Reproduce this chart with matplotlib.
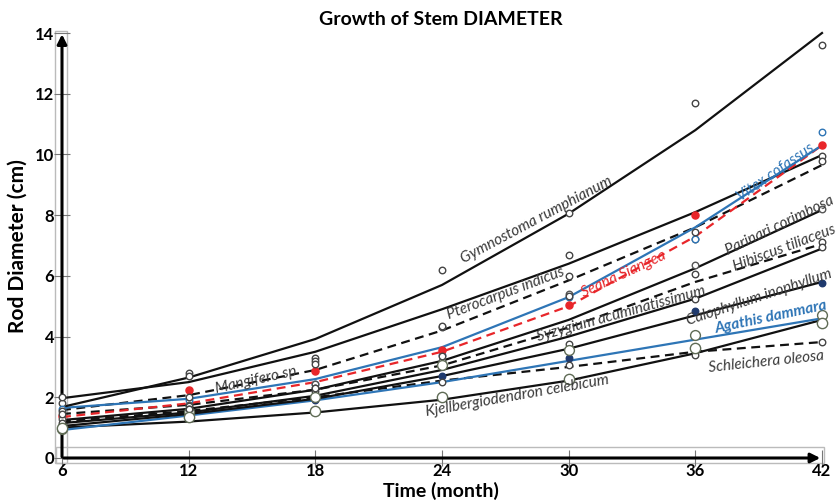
import matplotlib
matplotlib.use("Agg")
import matplotlib.pyplot as plt
from matplotlib.patches import Rectangle
import numpy as np

plt.rcParams['font.family'] = ['Lato', 'DejaVu Sans']

months = [6, 12, 18, 24, 30, 36, 42]

# trend lines (cm)
gym_fit = [1.68, 2.65, 3.92, 5.7, 8.05, 10.8, 14.0]
ptero_fit = [1.97, 2.5, 3.5, 4.9, 6.4, 8.1, 9.98]
vitex_fit = [1.65, 1.95, 2.6, 3.65, 5.3, 7.6, 10.3]
seana_fit = [1.35, 1.8, 2.5, 3.5, 5.0, 7.3, 10.3]
mangi_fit = [1.58, 2.07, 2.9, 4.2, 5.85, 7.6, 9.65]
parin_fit = [1.25, 1.62, 2.25, 3.2, 4.55, 6.25, 8.17]
hibis_fit = [1.45, 1.75, 2.25, 3.05, 4.3, 5.8, 7.05]
syzyg_fit = [1.15, 1.5, 2.05, 2.9, 4.0, 5.25, 6.9]
caloph_fit = [1.05, 1.45, 1.95, 2.7, 3.6, 4.7, 5.8]
agath_fit = [0.92, 1.4, 1.9, 2.5, 3.2, 3.9, 4.6]
schle_fit = [1.2, 1.55, 2.0, 2.55, 3.0, 3.5, 3.82]
kjell_fit = [1.0, 1.2, 1.5, 1.92, 2.55, 3.45, 4.55]

# measured points
gym_pts = [1.8, 2.8, 3.3, 6.2, 8.07, 11.7, 13.6]
ptero_pts = [2.0, 2.7, 3.2, 4.3, 6.7, 7.2, 9.95]
vitex_pts = [1.6, 1.9, 2.45, 3.4, 5.3, 7.2, 10.75]
seana_pts = [1.4, 2.25, 2.87, 3.56, 5.05, 8.0, 10.3]
mangi_pts = [1.55, 2.0, 3.1, 4.35, 6.0, 7.45, 9.8]
parin_pts = [1.3, 1.75, 2.45, 3.2, 5.4, 6.35, 8.2]
hibis_pts = [1.45, 1.7, 2.3, 3.35, 5.35, 6.05, 7.1]
syzyg_pts = [1.1, 1.6, 2.2, 3.05, 3.75, 5.25, 6.95]
caloph_pts = [1.05, 1.55, 1.9, 2.7, 3.3, 4.85, 5.77]
agath_pts = [0.95, 1.5, 2.0, 3.05, 3.55, 4.05, 4.72]
schle_pts = [1.15, 1.6, 2.3, 2.5, 3.05, 3.4, 3.82]
kjell_pts = [1.0, 1.35, 1.55, 2.0, 2.6, 3.62, 4.45]

black = '#111111'
blue = '#2E75B6'
red = '#E8262A'
navy = '#1F3A6E'
grey_txt = '#3a3a3a'

fig = plt.figure(figsize=(8.36, 5.01), dpi=100)
ax = fig.add_axes([62/836, 43/501, 760/836, 425/501])

# lines: (fit, style, color)
lines = [
    (kjell_fit, '-', black), (schle_fit, '--', black), (agath_fit, '-', blue),
    (caloph_fit, '-', black), (syzyg_fit, '-', black), (hibis_fit, '--', black),
    (parin_fit, '-', black), (mangi_fit, '--', black), (ptero_fit, '-', black),
    (seana_fit, '--', red), (vitex_fit, '-', blue), (gym_fit, '-', black),
]
for fit, ls, c in lines:
    if ls == '--':
        ax.plot(months, fit, ls, color=c, lw=1.6, dashes=(4, 2.5), clip_on=False, zorder=3)
    else:
        ax.plot(months, fit, ls, color=c, lw=1.6, clip_on=False, zorder=3)

# points: (values, marker face, edge, size)
points = [
    (gym_pts, 'white', '#444444', 22), (ptero_pts, 'white', '#444444', 22),
    (vitex_pts, 'white', blue, 22), (seana_pts, red, red, 26),
    (mangi_pts, 'white', '#444444', 22), (parin_pts, 'white', '#555555', 22),
    (hibis_pts, 'white', '#444444', 22), (syzyg_pts, 'white', '#444444', 22),
    (caloph_pts, navy, navy, 22), (agath_pts, 'white', '#5f6b55', 50),
    (schle_pts, 'white', '#444444', 22), (kjell_pts, 'white', '#5f6b55', 55),
]
for vals, fc, ec, s in points:
    ax.scatter(months, vals, s=s, facecolor=fc, edgecolor=ec, linewidth=1.0,
               clip_on=False, zorder=4)

# species labels: text, month, value, angle, colour, weight
labels = [
    ("Gymnostoma rumphianum", 28.5, 7.84, 28, grey_txt, 'normal'),
    ("Pterocarpus indicus", 27.0, 5.43, 20.7, grey_txt, 'normal'),
    ("Vitex cofassus", 39.8, 9.42, 34.7, blue, 'normal'),
    ("Seana Siangea", 32.6, 6.05, 25, red, 'normal'),
    ("Parinari corimbosa", 40.0, 7.67, 25.8, grey_txt, 'normal'),
    ("Hibiscus tiliaceus", 40.2, 6.9, 20.6, grey_txt, 'normal'),
    ("Syzygium acuminatissimum", 32.5, 4.74, 15.5, grey_txt, 'normal'),
    ("Calophyllum inophyllum", 39.0, 5.3, 18.3, grey_txt, 'normal'),
    ("Agathis dammara", 39.6, 4.62, 12, blue, 'bold'),
    ("Schleichera oleosa", 39.35, 3.16, 6, grey_txt, 'normal'),
    ("Kjellbergiodendron celebicum", 27.55, 2.04, 10, grey_txt, 'normal'),
    ("Mangifero sp", 15.2, 2.57, 12.5, grey_txt, 'normal'),
]
for txt, mx, my, ang, c, w in labels:
    ax.text(mx, my, txt, rotation=ang, rotation_mode='anchor', ha='center', va='center',
            color=c, fontsize=11, style='italic', weight=w, zorder=5)

ax.set_xlim(6, 42)
ax.set_ylim(0, 14)
for sp in ax.spines.values():
    sp.set_visible(False)
ax.set_xticks(months)
ax.set_yticks(range(0, 15, 2))
ax.tick_params(axis='both', direction='inout', length=11, width=0.8, color='#777777',
               labelsize=12, pad=0)
ax.tick_params(axis='x', pad=-2)
for lab in ax.get_xticklabels() + ax.get_yticklabels():
    lab.set_fontweight('bold')

# axis arrows with grey frames
ax.add_patch(Rectangle((5.67, -0.15), 0.57, 14.2, fill=False, edgecolor='#bbbbbb', lw=1.0,
                       clip_on=False, zorder=1))
ax.add_patch(Rectangle((5.7, -0.15), 36.4, 0.5, fill=False, edgecolor='#bbbbbb', lw=1.0,
                       clip_on=False, zorder=1))
ax.annotate('', xy=(6, 14.05), xytext=(6, -0.05), annotation_clip=False,
            arrowprops=dict(arrowstyle='-|>', color='black', lw=2.2, mutation_scale=14))
ax.annotate('', xy=(42.05, 0), xytext=(5.95, 0), annotation_clip=False,
            arrowprops=dict(arrowstyle='-|>', color='black', lw=2.2, mutation_scale=14))

fig.text(0.527, 0.962, "Growth of Stem DIAMETER", ha='center', va='center',
         fontsize=14, weight='bold')
fig.text(0.527, 0.002, "Time (month)", ha='center', va='bottom', fontsize=14, weight='bold')
fig.text(0.0215, 0.509, "Rod Diameter (cm)", ha='center', va='center', rotation=90,
         fontsize=15, weight='bold')

fig.savefig("out.png", dpi=100)
